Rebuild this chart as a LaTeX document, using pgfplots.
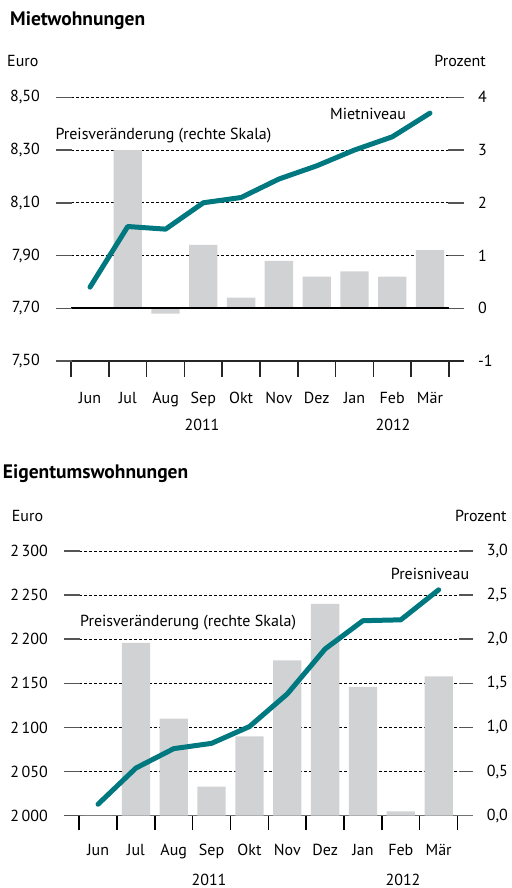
\documentclass[border=0pt]{standalone}
\usepackage{pgfplots}
\pgfplotsset{compat=1.18}
\usepackage{fontspec}
\setmainfont{PT Sans}
\definecolor{linec}{RGB}{0,120,128}
\definecolor{bargray}{RGB}{209,210,212}
\definecolor{tickgray}{RGB}{85,85,85}
\newcommand{\fs}{\fontsize{16}{19}\selectfont}
\newcommand{\ft}{\fontsize{19.5}{22}\selectfont\bfseries}
\pgfplotsset{
  base/.style={scale only axis, width=408pt, xmin=-0.9, xmax=9.9, anchor=south west,
    /pgf/number format/assume math mode=true,
    tick label style={font=\fs, inner sep=0pt},
    major tick length=16pt,
  },
  pctaxis/.style={base,
    axis x line*=bottom, axis y line*=right,
    y axis line style={draw=none},
    ytick align=inside, xtick align=outside,
    ytick style={tickgray, line width=1.5pt},
    yticklabel style={anchor=west, xshift=14pt},
    ymajorgrids,
    grid style={black, line width=0.7pt, dash pattern=on 3pt off 2pt},
    xtick={-0.5,0.5,1.5,2.5,3.5,4.5,5.5,6.5,7.5,8.5,9.5},
    xticklabels={},
    extra x ticks={0,1,2,3,4,5,6,7,8,9},
    extra x tick labels={Jun,Jul,Aug,Sep,Okt,Nov,Dez,Jan,Feb,M\"ar},
    extra x tick style={major tick length=0pt, tick style={draw=none},
      xticklabel style={anchor=north, text height=12pt, text depth=4pt}},
  },
  euroaxis/.style={base,
    axis x line=none, axis y line*=left,
    y axis line style={draw=none},
    ytick align=inside,
    ytick style={tickgray, line width=1.5pt},
    yticklabel style={anchor=east, xshift=-16pt},
  },
}
\begin{document}
\begin{tikzpicture}[x=1pt,y=1pt]
\useasboundingbox (0,0) rectangle (511,888);
% ---------- top panel ----------
\node[anchor=base west, inner sep=0pt, font=\ft] at (10,862.3) {Mietwohnungen};
\node[anchor=base west, inner sep=0pt, font=\fs] at (7,821.3) {Euro};
\node[anchor=base east, inner sep=0pt, font=\fs] at (486,821.3) {Prozent};
\begin{axis}[pctaxis, at={(56pt,527pt)}, height=263.7pt, ymin=-1, ymax=4,
  x axis line style={black!85, line width=1.5pt},
  extra x tick style={xticklabel style={yshift=-30pt}},
  xtick style={black!85, line width=1.5pt},
  ytick={-1,0,1,2,3,4}, yticklabels={-1,0,1,2,3,4}]
\addplot[ybar, bar width=28.3pt, fill=bargray, draw=none] coordinates {
(0,0) (1,3.0) (2,-0.1) (3,1.2) (4,0.2) (5,0.9) (6,0.6) (7,0.7) (8,0.6) (9,1.1)};
\addplot[black, line width=1.8pt] coordinates {(-0.5,0) (9.5,0)};
\end{axis}
\begin{axis}[euroaxis, at={(56pt,527pt)}, height=263.7pt, ymin=7.5, ymax=8.5,
  ytick={7.5,7.7,7.9,8.1,8.3,8.5},
  yticklabels={{7,50},{7,70},{7,90},{8,10},{8,30},{8,50}}]
\addplot[linec, line width=5pt, line join=round, line cap=round] coordinates {
(0,7.78) (1,8.01) (2,8.00) (3,8.10) (4,8.12) (5,8.19) (6,8.24) (7,8.30) (8,8.35) (9,8.44)};
\end{axis}
\node[anchor=base west, inner sep=0pt, font=\fs] at (55.3,748) {Preisveränderung (rechte Skala)};
\node[anchor=base, inner sep=0pt, font=\fs] at (368,768) {Mietniveau};
\node[anchor=base, inner sep=0pt, font=\fs] at (202,457.3) {2011};
\node[anchor=base, inner sep=0pt, font=\fs] at (393,457.3) {2012};
% ---------- bottom panel ----------
\node[anchor=base west, inner sep=0pt, font=\ft] at (2.7,409.7) {Eigentumswohnungen};
\node[anchor=base west, inner sep=0pt, font=\fs] at (11.7,366.3) {Euro};
\node[anchor=base east, inner sep=0pt, font=\fs] at (506.7,366.3) {Prozent};
\begin{axis}[pctaxis, at={(64pt,72.3pt)}, height=264.7pt, width=408.7pt, ymin=0, ymax=3,
  x axis line style={black!55, line width=1.5pt},
  major tick length=14pt,
  extra x tick style={xticklabel style={yshift=-28pt}},
  xtick style={black, line width=1.5pt},
  ytick={0,0.5,1,1.5,2,2.5,3}, yticklabels={{0,0},{0,5},{1,0},{1,5},{2,0},{2,5},{3,0}}]
\addplot[ybar, bar width=28.3pt, fill=bargray, draw=none] coordinates {
(0,0) (1,1.96) (2,1.1) (3,0.33) (4,0.9) (5,1.76) (6,2.4) (7,1.46) (8,0.05) (9,1.58)};
\end{axis}
\begin{axis}[euroaxis, at={(64pt,72.3pt)}, height=264.7pt, width=408.7pt, ymin=2000, ymax=2300,
  ytick={2000,2050,2100,2150,2200,2250,2300},
  yticklabels={{2\,000},{2\,050},{2\,100},{2\,150},{2\,200},{2\,250},{2\,300}}]
\addplot[linec, line width=5pt, line join=round, line cap=round] coordinates {
(0,2013) (1,2054) (2,2076) (3,2082) (4,2101) (5,2138) (6,2189) (7,2221) (8,2222) (9,2256)};
\end{axis}
\node[anchor=base west, inner sep=0pt, font=\fs] at (80,261.3) {Preisveränderung (rechte Skala)};
\node[anchor=base, inner sep=0pt, font=\fs] at (430,308) {Preisniveau};
\node[anchor=base, inner sep=0pt, font=\fs] at (209,2.5) {2011};
\node[anchor=base, inner sep=0pt, font=\fs] at (403,2.5) {2012};
\end{tikzpicture}
\end{document}
